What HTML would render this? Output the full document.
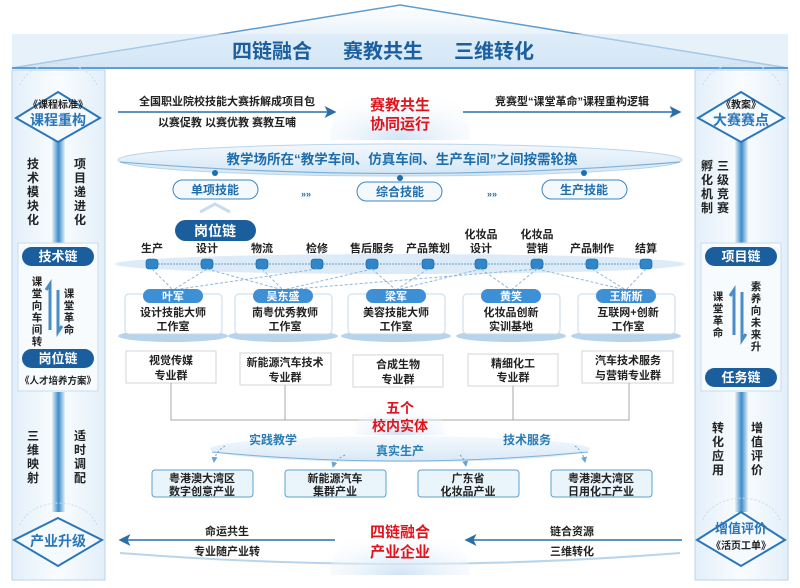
<!DOCTYPE html>
<html><head><meta charset="utf-8"><style>
html,body{margin:0;padding:0;background:#fff;}
svg{display:block;font-family:"Liberation Sans","Noto Sans CJK SC",sans-serif;font-weight:bold;}
</style></head><body>
<svg width="800" height="588" viewBox="0 0 800 588" xmlns="http://www.w3.org/2000/svg">
<defs>
<linearGradient id="roof" x1="0" y1="0" x2="0" y2="1"><stop offset="0" stop-color="#ffffff"/><stop offset="1" stop-color="#cfe4f5"/></linearGradient>
<linearGradient id="bar" x1="0" y1="0" x2="1" y2="0"><stop offset="0" stop-color="#e6f1fa"/><stop offset="0.5" stop-color="#3d8cc9"/><stop offset="1" stop-color="#e6f1fa"/></linearGradient>
<linearGradient id="col" x1="0" y1="0" x2="1" y2="0"><stop offset="0" stop-color="#e3eff9"/><stop offset="0.5" stop-color="#fafdff"/><stop offset="1" stop-color="#e3eff9"/></linearGradient>
<radialGradient id="dome" cx="0.5" cy="1" r="0.8"><stop offset="0" stop-color="#cfe3f6"/><stop offset="1" stop-color="#ffffff" stop-opacity="0"/></radialGradient>
<linearGradient id="ell" x1="0" y1="0" x2="0" y2="1"><stop offset="0" stop-color="#f3f8fd"/><stop offset="1" stop-color="#d3e6f5"/></linearGradient>
<marker id="ar" markerWidth="8" markerHeight="8" refX="7" refY="4" orient="auto"><path d="M0,0 L8,4 L0,8 L2,4 z" fill="#2a6fa8"/></marker>
<marker id="ar2" markerWidth="6" markerHeight="6" refX="5" refY="3" orient="auto"><path d="M0,0 L6,3 L0,6 z" fill="#6aa3cf"/></marker>
</defs>

<polygon points="12,68 400,5 788,68" fill="url(#roof)" stroke="#5d9bd0" stroke-width="1.5"/>
<rect x="12" y="34" width="776" height="34" fill="#d7e8f6" opacity="0.6"/>
<line x1="12" y1="68" x2="788" y2="68" stroke="#4a8cc6" stroke-width="1.5"/>
<g font-size="20" fill="#1c5f9e" text-anchor="middle">
<text x="272" y="58">四链融合</text><text x="383" y="58">赛教共生</text><text x="494" y="58">三维转化</text>
</g>

<rect x="12" y="70" width="93" height="510" fill="url(#col)" stroke="#b8d4ea"/>
<rect x="695" y="70" width="93" height="510" fill="url(#col)" stroke="#b8d4ea"/>
<rect x="52" y="140" width="13" height="105" fill="url(#bar)"/>
<rect x="52" y="392" width="13" height="120" fill="url(#bar)"/>
<rect x="735" y="140" width="13" height="105" fill="url(#bar)"/>
<rect x="735" y="392" width="13" height="120" fill="url(#bar)"/>

<path d="M20,85 A40,30 0 0 1 97,85" fill="none" stroke="#c8dcec" stroke-dasharray="2,2"/>
<polygon points="58,92 100,118 58,142 16,118" fill="#f5faff" stroke="#2a76b8" stroke-width="2"/>
<text x="58" y="108" font-size="10" fill="#222" text-anchor="middle">《课程标准》</text>
<text x="58" y="125" font-size="14" fill="#2a76b8" text-anchor="middle">课程重构</text>
<g font-size="12" fill="#222" text-anchor="middle">
<text x="33" y="168">技</text><text x="33" y="182">术</text><text x="33" y="196">模</text><text x="33" y="210">块</text><text x="33" y="224">化</text>
<text x="80" y="168">项</text><text x="80" y="182">目</text><text x="80" y="196">递</text><text x="80" y="210">进</text><text x="80" y="224">化</text>
</g>
<rect x="18" y="243" width="80" height="148" fill="#f7fbfe" stroke="#c9dcec"/>
<rect x="22" y="247" width="72" height="19" rx="9.5" fill="#1b5e9e"/>
<text x="58" y="261" font-size="13" fill="#fff" text-anchor="middle">技术链</text>
<g font-size="10.5" fill="#222" text-anchor="middle">
<text x="37" y="285">课</text><text x="37" y="297">堂</text><text x="37" y="309">向</text><text x="37" y="321">车</text><text x="37" y="333">间</text><text x="37" y="345">转</text>
<text x="69" y="297">课</text><text x="69" y="309">堂</text><text x="69" y="321">革</text><text x="69" y="333">命</text>
</g>
<path d="M50,330 L50,284 L46,290" stroke="#4a8cc6" stroke-width="3" fill="none"/>
<path d="M58,290 L58,332 L62,326" stroke="#4a8cc6" stroke-width="3" fill="none"/>
<rect x="22" y="349" width="72" height="19" rx="9.5" fill="#1b5e9e"/>
<text x="58" y="363" font-size="13" fill="#fff" text-anchor="middle">岗位链</text>
<text x="58" y="384" font-size="9.5" fill="#222" text-anchor="middle">《人才培养方案》</text>
<g font-size="12" fill="#222" text-anchor="middle">
<text x="33" y="440">三</text><text x="33" y="454">维</text><text x="33" y="468">映</text><text x="33" y="482">射</text>
<text x="80" y="440">适</text><text x="80" y="454">时</text><text x="80" y="468">调</text><text x="80" y="482">配</text>
</g>
<path d="M20,525 A40,30 0 0 1 97,525" fill="none" stroke="#c8dcec" stroke-dasharray="2,2"/>
<polygon points="58,518 102,540 58,566 14,540" fill="#f5faff" stroke="#2a76b8" stroke-width="2"/>
<text x="58" y="546" font-size="14" fill="#2a76b8" text-anchor="middle">产业升级</text>

<path d="M703,85 A40,30 0 0 1 780,85" fill="none" stroke="#c8dcec" stroke-dasharray="2,2"/>
<polygon points="741,92 784,118 741,142 698,118" fill="#f5faff" stroke="#2a76b8" stroke-width="2"/>
<text x="741" y="108" font-size="10" fill="#222" text-anchor="middle">《教案》</text>
<text x="741" y="125" font-size="14" fill="#2a76b8" text-anchor="middle">大赛赛点</text>
<g font-size="12" fill="#222" text-anchor="middle">
<text x="707" y="170">孵</text><text x="707" y="184">化</text><text x="707" y="198">机</text><text x="707" y="212">制</text>
<text x="723" y="170">三</text><text x="723" y="184">级</text><text x="723" y="198">竞</text><text x="723" y="212">赛</text>
</g>
<rect x="701" y="243" width="80" height="148" fill="#f7fbfe" stroke="#c9dcec"/>
<rect x="705" y="247" width="72" height="19" rx="9.5" fill="#1b5e9e"/>
<text x="741" y="261" font-size="13" fill="#fff" text-anchor="middle">项目链</text>
<g font-size="10.5" fill="#222" text-anchor="middle">
<text x="718" y="300">课</text><text x="718" y="312">堂</text><text x="718" y="324">革</text><text x="718" y="336">命</text>
<text x="756" y="290">素</text><text x="756" y="302">养</text><text x="756" y="314">向</text><text x="756" y="326">未</text><text x="756" y="338">来</text><text x="756" y="350">升</text>
</g>
<path d="M734,335 L734,290 L730,296" stroke="#4a8cc6" stroke-width="3" fill="none"/>
<path d="M742,292 L742,340 L746,334" stroke="#4a8cc6" stroke-width="3" fill="none"/>
<rect x="705" y="368" width="72" height="19" rx="9.5" fill="#1b5e9e"/>
<text x="741" y="382" font-size="13" fill="#fff" text-anchor="middle">任务链</text>
<g font-size="12" fill="#222" text-anchor="middle">
<text x="718" y="432">转</text><text x="718" y="446">化</text><text x="718" y="460">应</text><text x="718" y="474">用</text>
<text x="757" y="432">增</text><text x="757" y="446">值</text><text x="757" y="460">评</text><text x="757" y="474">价</text>
</g>
<path d="M703,520 A40,30 0 0 1 780,520" fill="none" stroke="#c8dcec" stroke-dasharray="2,2"/>
<polygon points="741,512 785,540 741,566 697,540" fill="#f5faff" stroke="#2a76b8" stroke-width="2"/>
<text x="741" y="533" font-size="13" fill="#2a76b8" text-anchor="middle">增值评价</text>
<text x="741" y="549" font-size="10" fill="#222" text-anchor="middle">《活页工单》</text>

<path d="M330,140 A70,65 0 0 1 470,140 Z" fill="url(#dome)"/>
<text x="400" y="110" font-size="15" fill="#e0141c" text-anchor="middle">赛教共生</text>
<text x="400" y="129" font-size="15" fill="#e0141c" text-anchor="middle">协同运行</text>
<text x="227" y="105" font-size="11" fill="#222" text-anchor="middle">全国职业院校技能大赛拆解成项目包</text>
<line x1="118" y1="112" x2="335" y2="112" stroke="#2a6fa8" stroke-width="1.5" marker-end="url(#ar)"/>
<text x="227" y="126" font-size="11" fill="#222" text-anchor="middle">以赛促教 以赛优教 赛教互哺</text>
<text x="572" y="105" font-size="11" fill="#222" text-anchor="middle">竞赛型“课堂革命”课程重构逻辑</text>
<line x1="463" y1="112" x2="680" y2="112" stroke="#2a6fa8" stroke-width="1.5" marker-end="url(#ar)"/>

<ellipse cx="400" cy="160" rx="282" ry="16" fill="url(#ell)" stroke="#b9d5ec"/>
<path d="M120,162 Q400,185 680,162" fill="none" stroke="#7eb1d9" stroke-width="1.2"/>
<text x="402" y="164" font-size="13.5" fill="#1e6eae" text-anchor="middle">教学场所在“教学车间、仿真车间、生产车间”之间按需轮换</text>
<circle cx="215" cy="173" r="3" fill="#1e6eae"/><circle cx="400" cy="178" r="3" fill="#1e6eae"/><circle cx="584" cy="173" r="3" fill="#1e6eae"/>
<g font-size="12" fill="#1e6eae" text-anchor="middle">
<rect x="173" y="180" width="85" height="19" rx="9.5" fill="#f4f9fe" stroke="#3d84c0"/><text x="215" y="194">单项技能</text>
<rect x="357" y="182" width="85" height="19" rx="9.5" fill="#f4f9fe" stroke="#3d84c0"/><text x="400" y="196">综合技能</text>
<rect x="542" y="180" width="85" height="19" rx="9.5" fill="#f4f9fe" stroke="#3d84c0"/><text x="584" y="194">生产技能</text>
<text x="306" y="197" font-size="9">»»</text><text x="492" y="197" font-size="9">»»</text>
</g>
<path d="M200,212 L215,204 L230,212" fill="none" stroke="#c9ddef" stroke-width="3"/>

<rect x="175" y="220" width="81" height="21" rx="10.5" fill="#1b5e9e"/>
<text x="215" y="236" font-size="14" fill="#fff" text-anchor="middle">岗位链</text>
<ellipse cx="400" cy="264" rx="285" ry="10" fill="#dcebf7"/>
<g font-size="11" fill="#222" text-anchor="middle">
<text x="152" y="252">生产</text><text x="207" y="252">设计</text><text x="262" y="252">物流</text><text x="317" y="252">检修</text><text x="372" y="252">售后服务</text><text x="428" y="252">产品策划</text>
<text x="481" y="238">化妆品</text><text x="481" y="252">设计</text><text x="537" y="238">化妆品</text><text x="537" y="252">营销</text>
<text x="592" y="252">产品制作</text><text x="646" y="252">结算</text>
</g>
<line x1="152" y1="264" x2="646" y2="264" stroke="#9cc4e3" stroke-dasharray="2,1" stroke-width="2"/>
<g fill="#2f86c8" stroke="#1c5f9e" stroke-width="0.6">
<rect x="146" y="259" width="12" height="10" rx="3"/><rect x="201" y="259" width="12" height="10" rx="3"/><rect x="256" y="259" width="12" height="10" rx="3"/><rect x="311" y="259" width="12" height="10" rx="3"/><rect x="366" y="259" width="12" height="10" rx="3"/><rect x="422" y="259" width="12" height="10" rx="3"/><rect x="475" y="259" width="12" height="10" rx="3"/><rect x="531" y="259" width="12" height="10" rx="3"/><rect x="586" y="259" width="12" height="10" rx="3"/><rect x="640" y="259" width="12" height="10" rx="3"/>
</g>
<g stroke="#8fb8da" stroke-dasharray="3,2" fill="none">
<path d="M152,269 L173,290 M207,269 L173,290 M207,269 L283,290 M262,269 L283,290 M317,269 L173,290 M372,269 L396,290 M372,269 L283,290 M428,269 L396,290 M481,269 L511,290 M481,269 L396,290 M537,269 L511,290 M537,269 L626,290 M537,269 L283,290 M592,269 L626,290 M646,269 L626,290"/>
</g>

<g>
<ellipse cx="173" cy="336" rx="55" ry="6" fill="#b7d4ec"/><rect x="125" y="294" width="97" height="40" rx="4" fill="#fff" stroke="#c5daeb"/>
<ellipse cx="283" cy="336" rx="55" ry="6" fill="#b7d4ec"/><rect x="235" y="294" width="97" height="40" rx="4" fill="#fff" stroke="#c5daeb"/>
<ellipse cx="396" cy="336" rx="55" ry="6" fill="#b7d4ec"/><rect x="348" y="294" width="97" height="40" rx="4" fill="#fff" stroke="#c5daeb"/>
<ellipse cx="511" cy="336" rx="55" ry="6" fill="#b7d4ec"/><rect x="463" y="294" width="97" height="40" rx="4" fill="#fff" stroke="#c5daeb"/>
<ellipse cx="626" cy="336" rx="55" ry="6" fill="#b7d4ec"/><rect x="578" y="294" width="97" height="40" rx="4" fill="#fff" stroke="#c5daeb"/>
</g>
<g fill="#3d8fd6">
<rect x="143" y="289" width="60" height="14" rx="7"/><rect x="253" y="289" width="60" height="14" rx="7"/><rect x="366" y="289" width="60" height="14" rx="7"/><rect x="481" y="289" width="60" height="14" rx="7"/><rect x="596" y="289" width="60" height="14" rx="7"/>
</g>
<g font-size="11" fill="#fff" text-anchor="middle">
<text x="173" y="300">叶军</text><text x="283" y="300">吴东盛</text><text x="396" y="300">梁军</text><text x="511" y="300">黄笑</text><text x="626" y="300">王斯斯</text>
</g>
<g font-size="11" fill="#222" text-anchor="middle">
<text x="173" y="316">设计技能大师</text><text x="173" y="330">工作室</text>
<text x="285" y="316">南粤优秀教师</text><text x="285" y="330">工作室</text>
<text x="396" y="316">美容技能大师</text><text x="396" y="330">工作室</text>
<text x="511" y="316">化妆品创新</text><text x="511" y="330">实训基地</text>
<text x="628" y="316">互联网+创新</text><text x="628" y="330">工作室</text>
</g>
<g fill="#fff" stroke="#d4d4d4" stroke-width="1">
<rect x="126" y="351" width="90" height="32"/><rect x="240" y="353" width="91" height="32"/><rect x="353" y="355" width="90" height="32"/><rect x="468" y="354" width="90" height="32"/><rect x="582" y="351" width="91" height="32"/>
</g>
<g font-size="11" fill="#222" text-anchor="middle">
<text x="171" y="364">视觉传媒</text><text x="171" y="379">专业群</text>
<text x="285" y="366">新能源汽车技术</text><text x="285" y="381">专业群</text>
<text x="398" y="368">合成生物</text><text x="398" y="383">专业群</text>
<text x="513" y="367">精细化工</text><text x="513" y="381">专业群</text>
<text x="628" y="364">汽车技术服务</text><text x="628" y="379">与营销专业群</text>
</g>
<g stroke="#aaa" fill="none">
<path d="M171,383 L171,420 L629,420 L629,383 M285,385 L285,420 M513,386 L513,420"/>
</g>
<path d="M355,435 A45,40 0 0 1 445,435 Z" fill="url(#dome)"/>
<text x="400" y="413" font-size="14" fill="#e0141c" text-anchor="middle">五个</text>
<text x="400" y="431" font-size="14" fill="#e0141c" text-anchor="middle">校内实体</text>
<ellipse cx="400" cy="449" rx="190" ry="13" fill="url(#ell)" opacity="0.9"/>
<path d="M212,452 Q400,470 588,452" fill="none" stroke="#7eb1d9"/>
<text x="273" y="444" font-size="12" fill="#2a7db5" text-anchor="middle">实践教学</text>
<text x="400" y="455" font-size="12" fill="#2a7db5" text-anchor="middle">真实生产</text>
<text x="527" y="444" font-size="12" fill="#2a7db5" text-anchor="middle">技术服务</text>
<g stroke="#6aa3cf" stroke-dasharray="2,2" fill="none" marker-end="url(#ar2)">
<path d="M225,446 Q215,452 214,462"/><path d="M345,455 Q335,460 333,467"/><path d="M460,455 Q465,460 466,466"/><path d="M575,446 Q583,452 585,462"/>
</g>
<g fill="#e9f4fb" stroke="#5ea0d0">
<rect x="152" y="470" width="101" height="27" rx="3"/><rect x="285" y="470" width="101" height="27" rx="3"/><rect x="418" y="470" width="101" height="27" rx="3"/><rect x="551" y="470" width="101" height="27" rx="3"/>
</g>
<g font-size="11" fill="#222" text-anchor="middle">
<text x="202" y="482">粤港澳大湾区</text><text x="202" y="495">数字创意产业</text>
<text x="335" y="482">新能源汽车</text><text x="335" y="495">集群产业</text>
<text x="468" y="482">广东省</text><text x="468" y="495">化妆品产业</text>
<text x="601" y="482">粤港澳大湾区</text><text x="601" y="495">日用化工产业</text>
</g>

<path d="M120,553 Q400,575 680,553" fill="none" stroke="#b9d5ec" stroke-width="2"/>
<path d="M330,575 A70,60 0 0 1 470,575 Z" fill="url(#dome)"/>
<text x="400" y="537" font-size="15" fill="#e0141c" text-anchor="middle">四链融合</text>
<text x="400" y="557" font-size="15" fill="#e0141c" text-anchor="middle">产业企业</text>
<line x1="335" y1="540" x2="120" y2="540" stroke="#2a6fa8" stroke-width="1.5" marker-end="url(#ar)"/>
<text x="227" y="535" font-size="11" fill="#222" text-anchor="middle">命运共生</text>
<text x="227" y="555" font-size="11" fill="#222" text-anchor="middle">专业随产业转</text>
<line x1="682" y1="540" x2="466" y2="540" stroke="#2a6fa8" stroke-width="1.5" marker-end="url(#ar)"/>
<text x="572" y="535" font-size="11" fill="#222" text-anchor="middle">链合资源</text>
<text x="572" y="555" font-size="11" fill="#222" text-anchor="middle">三维转化</text>
</svg>
</body></html>
